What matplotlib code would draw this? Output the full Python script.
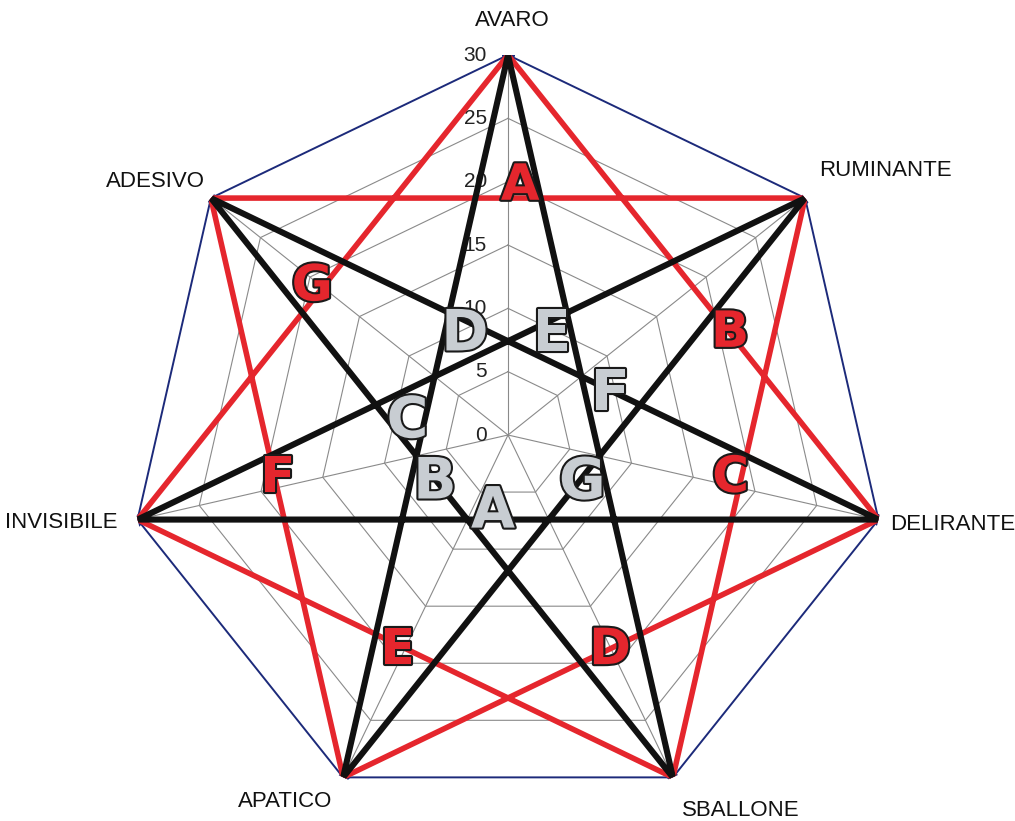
import numpy as np
import matplotlib
matplotlib.use("Agg")
import matplotlib.pyplot as plt
import matplotlib.patheffects as pe
from matplotlib.transforms import offset_copy

categories = ["AVARO", "RUMINANTE", "DELIRANTE", "SBALLONE", "APATICO", "INVISIBILE", "ADESIVO"]
outer_values = [30, 30, 30, 30, 30, 30, 30]
ticks = [0, 5, 10, 15, 20, 25, 30]
red_order = [0, 2, 4, 6, 1, 3, 5, 0]      # heptagram {7/2}
black_order = [0, 3, 6, 2, 5, 1, 4, 0]    # heptagram {7/3}

letters = ["A", "B", "C", "D", "E", "F", "G"]
red_theta = [2.8, 65.3, 100.9, 154.6, 207.1, 259.4, 307.2]
red_r = [19.7, 19.3, 17.9, 18.8, 19.1, 18.5, 19.4]
gray_theta = [191, 236.7, 277.4, 336.7, 23.7, 68.6, 123]
gray_r = [6.2, 6.9, 8.0, 8.6, 8.6, 8.7, 7.0]

n = len(categories)
angles = np.linspace(0, 2 * np.pi, n, endpoint=False)
closed = np.append(angles, angles[0])

fig = plt.figure(figsize=(10.15, 8.21), dpi=100)
ax = fig.add_axes([0.1261, 0.0073, 0.7488, 0.9257], projection="polar")
ax.set_theta_offset(np.pi / 2)
ax.set_theta_direction(-1)
ax.set_ylim(0, 30)
ax.set_axis_off()

# web grid
for t in ticks[1:-1]:
    ax.plot(closed, [t] * (n + 1), color="#8a8a8a", lw=0.8, zorder=1)
for a in angles:
    ax.plot([a, a], [0, 30], color="#8a8a8a", lw=0.8, zorder=1)

# outer series
ax.plot(closed, outer_values + [outer_values[0]], color="#1c2a7a", lw=1.4,
        marker="D", ms=6, zorder=2)

# stars
ax.plot(angles[red_order], [outer_values[i] for i in red_order],
        color="#e5262d", lw=4.0, solid_capstyle="round", zorder=3)
ax.plot(angles[black_order], [outer_values[i] for i in black_order],
        color="#111111", lw=4.4, solid_capstyle="round", zorder=4)

# tick labels
tick_tr = offset_copy(ax.transData, fig=fig, x=-21, y=0, units="dots")
for t in ticks:
    ax.text(0, t, str(t), transform=tick_tr, ha="right", va="center",
            fontsize=15, family="Liberation Sans", color="#222222", zorder=2)

# category labels
offsets = [(4, 35, "center"), (14, 28, "left"), (12, -5, "left"), (9, -33, "left"),
           (-11, -24, "right"), (-20, -3, "right"), (-6, 17, "right")]
for a, name, (dx, dy, ha) in zip(angles, categories, offsets):
    tr = offset_copy(ax.transData, fig=fig, x=dx, y=dy, units="dots")
    ax.text(a, 30, name, transform=tr, ha=ha, va="center", fontsize=16,
            family="Liberation Sans", color="#111111")

# letters
outline = [pe.Stroke(linewidth=3, foreground="#1a1a1a"), pe.Normal()]
for lab, th, r in zip(letters, red_theta, red_r):
    ax.text(np.deg2rad(th), r, lab, ha="center", va="center", fontsize=36,
            fontweight="heavy", family="DejaVu Sans", color="#e5262d",
            path_effects=outline, zorder=6)
for lab, th, r in zip(letters, gray_theta, gray_r):
    ax.text(np.deg2rad(th), r, lab, ha="center", va="center", fontsize=41,
            fontweight="heavy", family="DejaVu Sans", color="#c8cdd2",
            path_effects=outline, zorder=6)

fig.savefig("out.png", dpi=100, facecolor="white")
